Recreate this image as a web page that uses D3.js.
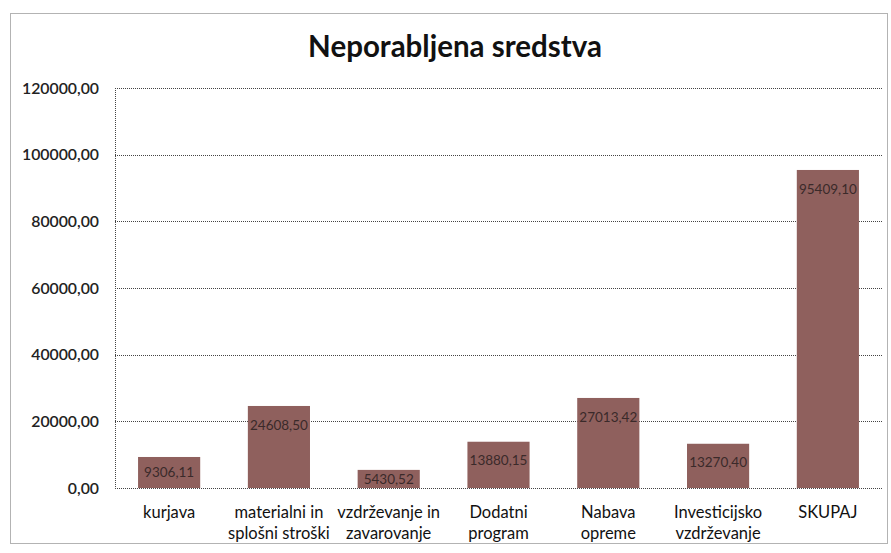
<!DOCTYPE html>
<html>
<head>
<meta charset="utf-8">
<script src="https://cdn.jsdelivr.net/npm/d3@7"></script>
<style>
  body { margin: 0; background: #fff; }
  svg { display: block; }
</style>
</head>
<body>
<script>
// categories (two-line labels as in the original chart)
var categories = ["kurjava", "materialni in splošni stroški", "vzdrževanje in zavarovanje",
                  "Dodatni program", "Nabava opreme", "Investicijsko vzdrževanje", "SKUPAJ"];
var labelLines = [["kurjava"], ["materialni in", "splošni stroški"], ["vzdrževanje in", "zavarovanje"],
                  ["Dodatni", "program"], ["Nabava", "opreme"], ["Investicijsko", "vzdrževanje"], ["SKUPAJ"]];
var values = [9306.11, 24608.50, 5430.52, 13880.15, 27013.42, 13270.40, 95409.10];
var yTicks = [0, 20000, 40000, 60000, 80000, 100000, 120000];

var W = 891, H = 553;
var plot = { left: 115, right: 882, top: 88, bottom: 488 };
var barColor = "#8f605d";
var font = "Lato, 'Open Sans', sans-serif";

var fmt = function(v){ return d3.format(".2f")(v).replace(".", ","); };

var svg = d3.select("body").append("svg")
  .attr("width", W)
  .attr("height", H);

// outer chart border
svg.append("rect")
  .attr("x", 10.5).attr("y", 13.5)
  .attr("width", 877).attr("height", 530)
  .attr("fill", "none")
  .attr("stroke", "#666")
  .attr("stroke-dasharray", "1,1");

var x = d3.scaleBand()
  .domain(categories)
  .range([plot.left, plot.right])
  .paddingInner(0.434)
  .paddingOuter(0.21);

var y = d3.scaleLinear()
  .domain([0, 120000])
  .range([plot.bottom, plot.top]);

// gridlines
svg.append("g").selectAll("line")
  .data(yTicks)
  .enter().append("line")
  .attr("x1", plot.left).attr("x2", plot.right)
  .attr("y1", function(d){ return Math.round(y(d)) + 0.5; })
  .attr("y2", function(d){ return Math.round(y(d)) + 0.5; })
  .attr("stroke", "#444")
  .attr("stroke-dasharray", "1,1");

// vertical axis line
svg.append("line")
  .attr("x1", plot.left + 0.5).attr("x2", plot.left + 0.5)
  .attr("y1", plot.top).attr("y2", plot.bottom)
  .attr("stroke", "#444")
  .attr("stroke-dasharray", "1,1");

// y axis labels
var yAxis = d3.axisLeft(y).tickValues(yTicks).tickSize(0).tickPadding(16).tickFormat(fmt);
var ya = svg.append("g")
  .attr("transform", "translate(" + plot.left + ",0)")
  .call(yAxis);
ya.select(".domain").remove();
ya.selectAll("text")
  .style("font-family", font)
  .style("font-size", "15.8px")
  .style("font-weight", "600")
  .attr("fill", "#222");

// bars
svg.append("g").selectAll("rect")
  .data(values)
  .enter().append("rect")
  .attr("x", function(d, i){ return x(categories[i]); })
  .attr("y", function(d){ return y(d); })
  .attr("width", x.bandwidth())
  .attr("height", function(d){ return plot.bottom - y(d); })
  .attr("fill", barColor);

// value labels
svg.append("g").selectAll("text")
  .data(values)
  .enter().append("text")
  .attr("x", function(d, i){ return x(categories[i]) + x.bandwidth() / 2; })
  .attr("y", function(d){ return Math.min(y(d) + 19, (y(d) + plot.bottom) / 2); })
  .attr("dy", "0.35em")
  .attr("text-anchor", "middle")
  .style("font-family", font)
  .style("font-size", "13.5px")
  .attr("fill", "#3a2a2a")
  .text(fmt);

// category labels
var cat = svg.append("g").selectAll("text")
  .data(categories)
  .enter().append("text")
  .attr("x", function(d){ return x(d) + x.bandwidth() / 2; })
  .attr("y", 518)
  .attr("text-anchor", "middle")
  .style("font-family", font)
  .style("font-size", "16.5px")
  .attr("fill", "#111");
cat.each(function(d, i){
  var t = d3.select(this);
  labelLines[i].forEach(function(line, j){
    t.append("tspan")
      .attr("x", t.attr("x"))
      .attr("dy", j === 0 ? 0 : 21)
      .text(line);
  });
});

// title
svg.append("text")
  .attr("x", 455)
  .attr("y", 57)
  .attr("text-anchor", "middle")
  .style("font-family", font)
  .style("font-size", "29.5px")
  .style("font-weight", "bold")
  .attr("fill", "#111")
  .text("Neporabljena sredstva");
</script>
</body>
</html>
